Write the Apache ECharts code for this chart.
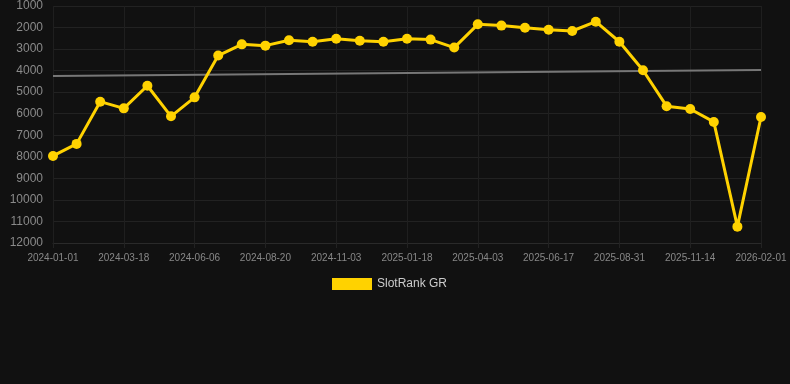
<!DOCTYPE html>
<html>
<head>
<meta charset="utf-8">
<script src="https://cdn.jsdelivr.net/npm/echarts@6/dist/echarts.min.js"></script>
<style>
  html, body { margin: 0; padding: 0; background: #111111; }
  #chart { width: 790px; height: 384px; }
</style>
</head>
<body>
<div id="chart"></div>
<script>
// dates of the rank samples (every third one is labelled)
let dates = [
    '2024-01-01', '2024-01-27', '2024-02-22', '2024-03-18', '2024-04-14', '2024-05-10',
    '2024-06-06', '2024-07-01', '2024-07-26', '2024-08-20', '2024-09-14', '2024-10-09',
    '2024-11-03', '2024-11-28', '2024-12-24', '2025-01-18', '2025-02-12', '2025-03-09',
    '2025-04-03', '2025-04-28', '2025-05-23', '2025-06-17', '2025-07-12', '2025-08-06',
    '2025-08-31', '2025-09-25', '2025-10-20', '2025-11-14', '2025-12-10', '2026-01-06',
    '2026-02-01'
];

// SlotRank GR values
let rankValues = [
    7960, 7400, 5440, 5750, 4700, 6120,
    5240, 3300, 2780, 2840, 2590, 2660,
    2520, 2610, 2660, 2520, 2560, 2930,
    1850, 1910, 2010, 2100, 2160, 1730,
    2660, 3980, 5650, 5780, 6380, 11240,
    6150
];

// trend line end points
let trendStart = 4250;
let trendEnd = 3970;

let yTicks = { min: 1000, max: 12000, interval: 1000 };

let trendData = dates.map((d, i) => {
    if (i === 0) return trendStart;
    if (i === dates.length - 1) return trendEnd;
    return null;
});

let myChart = echarts.init(document.getElementById('chart'));

let option = {
    backgroundColor: '#111111',
    textStyle: { fontFamily: 'Liberation Sans, Arial, sans-serif' },
    animation: false,
    grid: { left: 53, right: 29, top: 6, bottom: 141 },
    legend: {
        data: ['SlotRank GR'],
        top: 278,
        left: 332,
        padding: 0,
        icon: 'rect',
        itemWidth: 40,
        itemHeight: 12,
        textStyle: { color: '#cccccc', fontSize: 12 }
    },
    xAxis: {
        type: 'category',
        data: dates,
        boundaryGap: false,
        axisLine: { lineStyle: { color: '#2a2a2a' } },
        axisTick: { show: true, interval: 2, lineStyle: { color: '#222' } },
        axisLabel: { interval: 2, color: '#888888', fontSize: 10, margin: 10 },
        splitLine: { show: true, interval: 2, lineStyle: { color: '#1f1f1f' } }
    },
    yAxis: {
        type: 'value',
        inverse: true,
        min: yTicks.min,
        max: yTicks.max,
        interval: yTicks.interval,
        axisLine: { show: false },
        axisTick: { show: false },
        axisLabel: {
            color: '#8a8a8a',
            fontSize: 12,
            margin: 10,
            formatter: function (v) { return String(v); }
        },
        splitLine: { lineStyle: { color: '#222222' } }
    },
    series: [
        {
            name: 'Trend',
            type: 'line',
            data: trendData,
            connectNulls: true,
            symbol: 'none',
            silent: true,
            lineStyle: { color: '#777777', width: 2 },
            z: 1
        },
        {
            name: 'SlotRank GR',
            type: 'line',
            data: rankValues,
            symbol: 'circle',
            symbolSize: 10,
            itemStyle: { color: '#ffd200' },
            lineStyle: { color: '#ffd200', width: 3 },
            z: 3
        }
    ]
};

myChart.setOption(option);
</script>
</body>
</html>
